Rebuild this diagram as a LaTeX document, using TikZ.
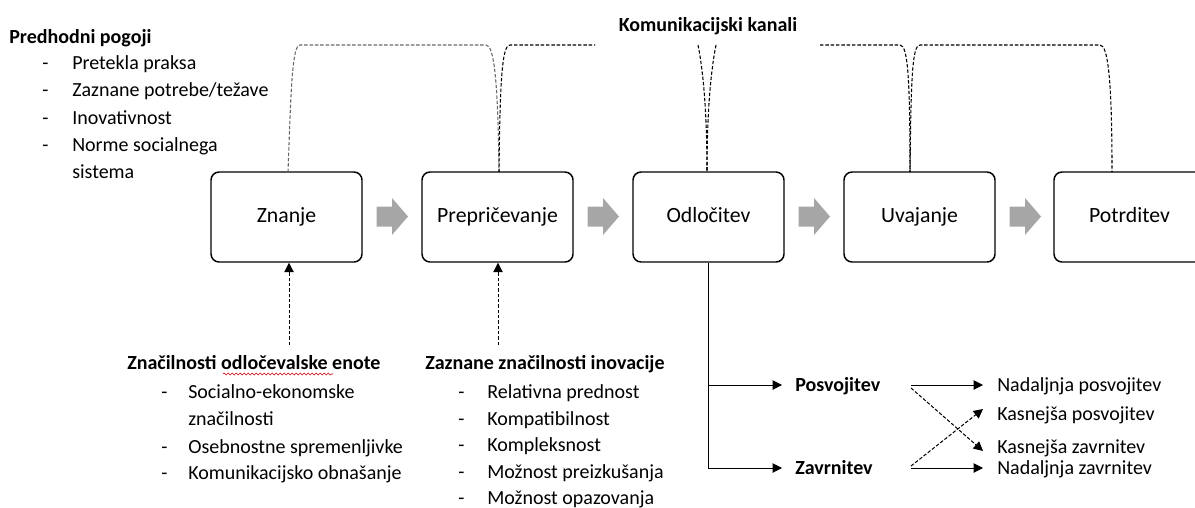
\documentclass[tikz,border=0pt]{standalone}
\usepackage{fontspec}
\setmainfont{Carlito}
\usetikzlibrary{arrows.meta,decorations.pathmorphing}
\begin{document}
\begin{tikzpicture}[x=0.75pt,y=-0.75pt,
  stagebox/.style={draw=black,line width=1.1pt,rounded corners=6pt,minimum width=113.25pt,minimum height=67.5pt,inner sep=0pt,text height=11pt,text depth=3pt,font=\fontsize{16.3}{19}\selectfont},
  blockarr/.pic={\fill[black!35] (-15.5,-10) -- (0,-10) -- (0,-18.5) -- (16,0) -- (0,18.5) -- (0,10) -- (-15.5,10) -- cycle;},
  txt/.style={anchor=mid west,inner sep=0pt,yshift=-2.2pt,font=\fontsize{15}{18}\selectfont},
  head/.style={txt,font=\fontsize{15}{18}\selectfont\bfseries},
  chan/.style={draw=black,line width=0.8pt,dash pattern=on 2.6pt off 1.4pt},
  darr/.style={draw=black,line width=0.75pt,dash pattern=on 2.6pt off 1.4pt,-{Triangle[length=7pt,width=7pt]}},
  sarr/.style={draw=black,line width=0.75pt,-{Triangle[length=7pt,width=7pt]}}
]
\useasboundingbox (0,0) rectangle (1195,507);
\clip (0,0) rectangle (1195,507);

% stage boxes
\node[stagebox] (zn) at (286.5,217) {Znanje};
\node[stagebox] (pr) at (497.5,217) {Prepričevanje};
\node[stagebox] (od) at (708.5,217) {Odločitev};
\node[stagebox] (uv) at (919.5,217) {Uvajanje};
\node[stagebox] (po) at (1129.5,217) {Potrditev};

% grey block arrows
\pic (b1) at (392,216.5) {blockarr};
\pic (b2) at (603,216.5) {blockarr};
\pic (b3) at (814,216.5) {blockarr};
\pic (b4) at (1025,216.5) {blockarr};

% communication channels
\node[font=\fontsize{15}{18}\selectfont\bfseries,inner sep=0pt] (kk) at (708,26) {Komunikacijski kanali};
\coordinate (tZ) at (288,172);
\coordinate (tP) at (499,172);
\coordinate (tO) at (707,172);
\coordinate (tU) at (910,172);
\coordinate (tT) at (1112,172);
\draw[chan,draw=black!60] (tZ) .. controls (291,90) and (292,45) .. (300,45) -- (486,45) .. controls (494,45) and (498,80) .. (tP);
\draw[chan] (tP) .. controls (500,80) and (502,45) .. (510,45) -- (595,45);
\draw[chan] (698,45) .. controls (703,70) and (707,110) .. (tO);
\draw[chan] (716,45) .. controls (711,70) and (707,110) .. (tO);
\draw[chan] (820,45) -- (900,45) .. controls (908,45) and (910,80) .. (tU);
\draw[chan] (tU) .. controls (911,80) and (912,45) .. (920,45) -- (1100,45) .. controls (1108,45) and (1112,80) .. (tT);

% prior conditions
\node[head] (pp) at (9,37) {Predhodni pogoji};
\foreach \y/\t in {63/{Pretekla praksa},90/{Zaznane potrebe/težave},118/{Inovativnost},145/{Norme socialnega}}{
  \node[txt] at (42,\y) {-};
  \node[txt] at (72,\y) {\t};
}
\node[txt] at (72,172) {sistema};

% decision-making unit
\coordinate (zb) at (289,345);
\draw[darr] (zb) -- (zb |- zn.south);
\node[head] (ze) at (127,363) {Značilnosti odločevalske enote};
\draw[red!80!black,line width=0.4pt,decorate,decoration={snake,amplitude=0.8pt,segment length=3pt}] (223,374) -- (333,374);
\foreach \y/\t in {392/{Socialno-ekonomske},447/{Osebnostne spremenljivke},473/{Komunikacijsko obnašanje}}{
  \node[txt] at (161,\y) {-};
  \node[txt] at (188,\y) {\t};
}
\node[txt] at (188,419) {značilnosti};

% perceived characteristics
\coordinate (pb) at (498,345);
\draw[darr] (pb) -- (pb |- pr.south);
\node[head] (zi) at (425,363) {Zaznane značilnosti inovacije};
\foreach \y/\t in {392/{Relativna prednost},419/{Kompatibilnost},445/{Kompleksnost},472/{Možnost preizkušanja},498/{Možnost opazovanja}}{
  \node[txt] at (458,\y) {-};
  \node[txt] at (487,\y) {\t};
}

% decision outcomes
\coordinate (pa) at (782,385);
\coordinate (za) at (782,468);
\draw[sarr] (od.south) |- (pa);
\draw[sarr] (od.south) |- (za);
\node[head] (posv) at (795,385) {Posvojitev};
\node[head] (zavr) at (795,468) {Zavrnitev};

\node[txt] (np) at (997,385) {Nadaljnja posvojitev};
\node[txt] (kp) at (997,414) {Kasnejša posvojitev};
\node[txt] (kz) at (997,447) {Kasnejša zavrnitev};
\node[txt] (nz) at (997,468) {Nadaljnja zavrnitev};

\coordinate (ps) at (911,385);
\coordinate (zs) at (911,468);
\draw[sarr] (ps) -- (983,385);
\draw[sarr] (zs) -- (983,468);
\draw[darr] (911,388) -- (983,451);
\draw[darr] (911,466) -- (983,409);
\end{tikzpicture}
\end{document}
